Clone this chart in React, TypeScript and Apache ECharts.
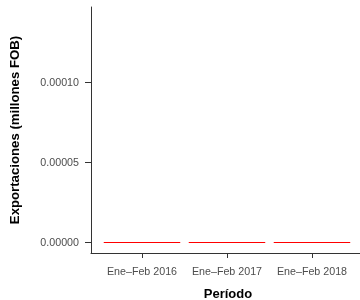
import React, { useEffect, useRef } from "react";
import * as echarts from "echarts";

const categories = ["Ene\u2013Feb 2016", "Ene\u2013Feb 2017", "Ene\u2013Feb 2018"];
const exportValues = [0, 0, 0];
const yTicks = [0, 0.00005, 0.0001];

const FONT = "'Liberation Sans', Arial, Helvetica, sans-serif";

export default function App() {
  const ref = useRef<HTMLDivElement>(null);
  useEffect(() => {
    if (!ref.current) return;
    const chart = echarts.init(ref.current, undefined, { renderer: "svg" });
    const seriesData = exportValues.map((v, i) => [i + 1, v]);
    chart.setOption({
      animation: false,
      grid: { left: 91, right: 0, top: 7, bottom: 47, containLabel: false },
      xAxis: {
        type: "value",
        min: 0.4,
        max: 3.565,
        splitLine: { show: false },
        axisLine: { show: true, onZero: false, lineStyle: { color: "#333", width: 1 } },
        axisTick: { show: true, length: 5, customValues: [1, 2, 3], lineStyle: { color: "#333" } },
        axisLabel: {
          customValues: [1, 2, 3],
          color: "#4d4d4d",
          fontFamily: FONT,
          fontSize: 10.7,
          margin: 12,
          formatter: (v: number) => categories[Math.round(v) - 1] ?? "",
        },
      },
      yAxis: {
        type: "value",
        min: -0.0000069,
        max: 0.000147,
        splitLine: { show: false },
        axisLine: { show: true, onZero: false, lineStyle: { color: "#333", width: 1 } },
        axisTick: { show: true, length: 6, customValues: yTicks, lineStyle: { color: "#333" } },
        axisLabel: {
          customValues: yTicks,
          color: "#4d4d4d",
          fontFamily: FONT,
          fontSize: 10.7,
          margin: 12,
          formatter: (v: number) => v.toFixed(5),
        },
      },
      series: [
        {
          type: "custom",
          data: seriesData,
          silent: true,
          renderItem: (params: any, api: any) => {
            const x = api.value(0);
            const y = api.value(1);
            const p1 = api.coord([x - 0.45, y]);
            const p2 = api.coord([x + 0.45, y]);
            const yy = Math.round(p1[1]) + 0.5;
            return {
              type: "line",
              shape: { x1: p1[0], y1: yy, x2: p2[0], y2: yy },
              style: { stroke: "#ff0000", lineWidth: 1.1 },
            };
          },
        },
      ],
      graphic: [
        {
          type: "text",
          x: 228,
          y: 293,
          style: {
            text: "Período",
            fontFamily: FONT,
            fontWeight: "bold",
            fontSize: 13,
            fill: "#000",
            align: "center",
            verticalAlign: "middle",
          },
        },
        {
          type: "text",
          x: 14,
          y: 130,
          rotation: Math.PI / 2,
          style: {
            text: "Exportaciones (millones FOB)",
            fontFamily: FONT,
            fontWeight: "bold",
            fontSize: 13.2,
            fill: "#000",
            align: "center",
            verticalAlign: "middle",
          },
        },
      ],
    });
    return () => chart.dispose();
  }, []);
  return (
    <div
      ref={ref}
      style={{ position: "fixed", left: 0, top: 0, width: 360, height: 300 }}
    />
  );
}
